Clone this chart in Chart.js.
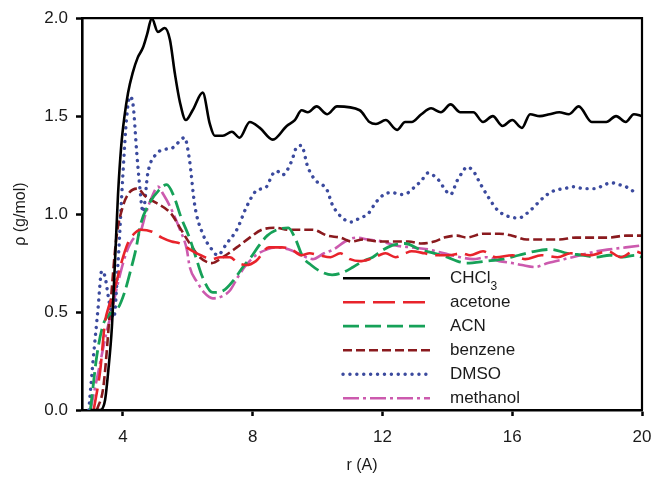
<!DOCTYPE html>
<html>
<head>
<meta charset="utf-8">
<script src="https://cdn.jsdelivr.net/npm/chart.js@4.4.1/dist/chart.umd.min.js"></script>
<style>
	body { margin: 0; background: #fff; }
	#wrap { width: 653px; height: 479px; }
</style>
</head>
<body>
<div id="wrap"><canvas id="rdf_chart" width="653" height="479"></canvas></div>
<script>
// [r (A), rho (g/mol)], one list per solvent
const chcl3 = [
	[3.0, 0], [3.3, 0], [3.45, 0.05], [3.55, 0.2], [3.66, 0.42], [3.76, 0.77], [3.85, 1.1], [3.95, 1.35],
	[4.05, 1.5], [4.16, 1.62], [4.3, 1.72], [4.46, 1.8], [4.62, 1.85], [4.75, 1.92], [4.89, 2.0], [5.08, 1.93],
	[5.29, 1.95], [5.45, 1.89], [5.6, 1.72], [5.76, 1.57], [5.94, 1.48], [6.15, 1.53], [6.46, 1.62], [6.68, 1.46],
	[6.83, 1.4], [7.08, 1.4], [7.36, 1.42], [7.6, 1.39], [7.91, 1.47], [8.22, 1.44], [8.62, 1.38], [9.05, 1.45],
	[9.3, 1.48], [9.51, 1.53], [9.7, 1.52], [9.97, 1.55], [10.3, 1.51], [10.6, 1.55], [11.3, 1.53], [11.6, 1.47],
	[11.8, 1.46], [12.1, 1.48], [12.45, 1.43], [12.7, 1.47], [12.9, 1.47], [13.2, 1.51], [13.5, 1.54], [13.8, 1.52],
	[14.1, 1.56], [14.4, 1.52], [14.8, 1.52], [15.1, 1.47], [15.4, 1.5], [15.7, 1.45], [16.0, 1.48], [16.3, 1.44],
	[16.55, 1.51], [16.85, 1.5], [17.15, 1.51], [17.45, 1.52], [17.75, 1.51], [18.05, 1.55], [18.45, 1.47], [18.9, 1.47],
	[19.2, 1.5], [19.5, 1.47], [19.75, 1.51], [20.0, 1.5]
];
const acetone = [
	[3.1, 0], [3.3, 0.2], [3.45, 0.45], [3.55, 0.52], [3.75, 0.62], [3.95, 0.75], [4.15, 0.85], [4.35, 0.9],
	[4.55, 0.92], [4.9, 0.91], [5.2, 0.88], [5.5, 0.86], [5.76, 0.85], [6.06, 0.82], [6.4, 0.79], [6.74, 0.77],
	[7.0, 0.78], [7.3, 0.78], [7.55, 0.75], [7.8, 0.74], [8.1, 0.76], [8.5, 0.83], [8.9, 0.83], [9.2, 0.82],
	[9.5, 0.79], [9.76, 0.8], [10.05, 0.79], [10.4, 0.78], [10.7, 0.8], [11.0, 0.77], [11.3, 0.76], [11.6, 0.77],
	[11.9, 0.79], [12.1, 0.8], [12.4, 0.78], [12.7, 0.8], [12.9, 0.81], [13.3, 0.8], [13.6, 0.79], [14.05, 0.79],
	[14.45, 0.8], [14.7, 0.79], [15.1, 0.81], [15.5, 0.78], [16.0, 0.79], [16.4, 0.77], [16.9, 0.79], [17.4, 0.78],
	[17.8, 0.8], [18.4, 0.79], [18.95, 0.81], [19.35, 0.78], [19.75, 0.81], [20.0, 0.8]
];
const acn = [
	[3.0, 0], [3.2, 0.28], [3.4, 0.44], [3.6, 0.49], [3.85, 0.52], [4.05, 0.6], [4.25, 0.72], [4.4, 0.82],
	[4.55, 0.95], [4.8, 1.05], [5.1, 1.12], [5.35, 1.15], [5.55, 1.1], [5.8, 0.98], [6.05, 0.88], [6.25, 0.78],
	[6.45, 0.68], [6.77, 0.6], [7.1, 0.61], [7.4, 0.66], [7.7, 0.73], [7.95, 0.78], [8.2, 0.84], [8.45, 0.89],
	[8.75, 0.92], [9.1, 0.93], [9.3, 0.88], [9.55, 0.78], [9.8, 0.74], [10.06, 0.71], [10.45, 0.69], [10.75, 0.7],
	[11.1, 0.73], [11.4, 0.76], [11.7, 0.78], [11.95, 0.81], [12.3, 0.84], [12.7, 0.85], [13.15, 0.82], [13.6, 0.8],
	[14.0, 0.78], [14.3, 0.76], [14.6, 0.75], [15.2, 0.76], [15.7, 0.77], [16.2, 0.79], [16.7, 0.81], [17.2, 0.82],
	[17.7, 0.8], [18.2, 0.79], [18.6, 0.78], [19.0, 0.79], [19.4, 0.78], [19.8, 0.79], [20.0, 0.78]
];
const benzene = [
	[3.2, 0], [3.4, 0.12], [3.6, 0.5], [3.8, 0.88], [4.0, 1.04], [4.2, 1.11], [4.45, 1.13], [4.7, 1.09],
	[5.0, 1.06], [5.3, 1.03], [5.5, 1.0], [5.76, 0.93], [6.06, 0.85], [6.37, 0.78], [6.74, 0.75], [7.08, 0.78],
	[7.51, 0.83], [7.91, 0.88], [8.28, 0.92], [8.7, 0.93], [9.1, 0.92], [9.5, 0.92], [9.85, 0.92], [10.3, 0.89],
	[10.7, 0.88], [11.05, 0.86], [11.4, 0.87], [11.9, 0.86], [12.3, 0.86], [12.8, 0.86], [13.2, 0.85], [13.6, 0.86],
	[13.9, 0.88], [14.3, 0.89], [14.6, 0.88], [15.1, 0.9], [15.6, 0.9], [16.0, 0.89], [16.45, 0.87], [16.95, 0.87],
	[17.45, 0.87], [17.95, 0.88], [18.5, 0.88], [18.95, 0.88], [19.5, 0.89], [20.0, 0.89]
];
const dmso = [
	[2.95, 0], [3.08, 0.25], [3.23, 0.51], [3.35, 0.71], [3.45, 0.68], [3.58, 0.55], [3.72, 0.47], [3.85, 0.75],
	[4.0, 1.2], [4.12, 1.5], [4.22, 1.6], [4.32, 1.55], [4.42, 1.33], [4.52, 1.14], [4.62, 1.01], [4.77, 1.21],
	[5.05, 1.31], [5.3, 1.33], [5.55, 1.34], [5.9, 1.39], [6.05, 1.28], [6.22, 1.04], [6.46, 0.9], [6.74, 0.82],
	[6.92, 0.79], [7.2, 0.85], [7.51, 0.92], [7.82, 1.04], [8.12, 1.12], [8.43, 1.14], [8.6, 1.2], [8.74, 1.22],
	[8.92, 1.2], [9.2, 1.27], [9.35, 1.34], [9.5, 1.35], [9.7, 1.24], [9.95, 1.17], [10.15, 1.15], [10.3, 1.12],
	[10.45, 1.05], [10.65, 1.0], [10.85, 0.97], [11.05, 0.96], [11.3, 0.98], [11.55, 1.0], [11.8, 1.06], [12.05, 1.1],
	[12.3, 1.11], [12.55, 1.1], [12.8, 1.11], [13.0, 1.14], [13.2, 1.17], [13.4, 1.21], [13.55, 1.2], [13.75, 1.17],
	[13.95, 1.12], [14.1, 1.1], [14.3, 1.17], [14.45, 1.21], [14.6, 1.24], [14.8, 1.22], [15.0, 1.16], [15.25, 1.09],
	[15.55, 1.02], [15.85, 0.99], [16.2, 0.98], [16.5, 1.01], [16.75, 1.05], [17.0, 1.09], [17.3, 1.12], [17.6, 1.13],
	[17.9, 1.14], [18.2, 1.13], [18.55, 1.13], [18.85, 1.15], [19.05, 1.16], [19.3, 1.15], [19.5, 1.14], [19.7, 1.12],
	[19.85, 1.1]
];
const methanol = [
	[3.0, 0], [3.25, 0.2], [3.5, 0.4], [3.65, 0.5], [3.85, 0.65], [4.1, 0.8], [4.35, 0.88], [4.52, 0.9],
	[4.7, 1.0], [4.9, 1.09], [5.08, 1.14], [5.25, 1.1], [5.45, 1.04], [5.76, 0.92], [5.97, 0.82], [6.06, 0.73],
	[6.3, 0.65], [6.5, 0.6], [6.77, 0.57], [7.05, 0.58], [7.3, 0.61], [7.55, 0.68], [7.8, 0.74], [8.1, 0.79],
	[8.45, 0.82], [8.75, 0.83], [9.1, 0.82], [9.4, 0.8], [9.65, 0.78], [9.85, 0.77], [10.2, 0.8], [10.5, 0.82],
	[10.85, 0.86], [11.2, 0.88], [11.55, 0.87], [12.0, 0.86], [12.4, 0.84], [12.9, 0.83], [13.4, 0.82], [13.9, 0.8],
	[14.4, 0.78], [14.8, 0.77], [15.2, 0.78], [15.6, 0.76], [16.0, 0.75], [16.3, 0.74], [16.7, 0.73], [17.1, 0.75],
	[17.6, 0.77], [18.1, 0.79], [18.6, 0.81], [19.0, 0.82], [19.5, 0.83], [20.0, 0.84]
];

const series_names = ['CHCl3', 'acetone', 'ACN', 'benzene', 'DMSO', 'methanol'];
const x_ticks = [4, 8, 12, 16, 20];
const y_ticks = [0, 0.5, 1.0, 1.5, 2.0];

const font_family = '"Liberation Sans", Arial, Helvetica, sans-serif';
const text_color = '#1a1a1a';

function to_points(list) {
	return list.map(p => ({ x: p[0], y: p[1] }));
}

const styles = [
	{ color: '#000000', dash: [], width: 2.6 },
	{ color: '#e8232b', dash: [22, 8], width: 2.6 },
	{ color: '#16a158', dash: [16, 6], width: 2.8 },
	{ color: '#8a1a1e', dash: [9, 4], width: 2.6 },
	{ color: '#3b4a9e', dash: [0.1, 6.8], width: 3.4, cap: 'round' },
	{ color: '#cc5aae', dash: [16, 4, 3, 4], width: 2.6 }
];
const all_series = [chcl3, acetone, acn, benzene, dmso, methanol];

// draw order: coloured curves first, black on top
const datasets = all_series.map((s, i) => ({
	label: series_names[i],
	data: to_points(s),
	borderColor: styles[i].color,
	backgroundColor: styles[i].color,
	borderDash: styles[i].dash,
	borderWidth: styles[i].width,
	borderCapStyle: styles[i].cap || 'butt',
	pointRadius: 0,
	cubicInterpolationMode: 'monotone',
	fill: false,
	order: i === 0 ? 0 : 1
}));

const frame_box = {
	id: 'frame_box',
	afterDraw(chart) {
		const { ctx, chartArea: a } = chart;
		ctx.save();
		ctx.strokeStyle = '#000';
		ctx.lineWidth = 2.2;
		ctx.beginPath();
		ctx.moveTo(a.left, a.top);
		ctx.lineTo(a.right, a.top);
		ctx.lineTo(a.right, a.bottom);
		ctx.stroke();
		ctx.restore();
	}
};

const inside_legend = {
	id: 'inside_legend',
	afterDraw(chart) {
		const { ctx, chartArea: a } = chart;
		const x0 = a.left + 261, x1 = a.left + 348, tx = a.left + 368;
		ctx.save();
		chart.data.datasets.forEach((ds, i) => {
			const y = a.top + 260 + i * 24;
			ctx.beginPath();
			ctx.strokeStyle = ds.borderColor;
			ctx.lineWidth = ds.borderWidth;
			ctx.lineCap = ds.borderCapStyle;
			ctx.setLineDash(ds.borderDash);
			ctx.moveTo(x0, y);
			ctx.lineTo(x1, y);
			ctx.stroke();
			ctx.setLineDash([]);
			ctx.fillStyle = text_color;
			ctx.textBaseline = 'middle';
			ctx.textAlign = 'left';
			ctx.font = '17px ' + font_family;
			if (ds.label === 'CHCl3') {
				ctx.fillText('CHCl', tx, y);
				const w = ctx.measureText('CHCl').width;
				ctx.font = '12px ' + font_family;
				ctx.fillText('3', tx + w, y + 8);
			} else {
				ctx.fillText(ds.label, tx, y);
			}
		});
		ctx.restore();
	}
};

new Chart(document.getElementById('rdf_chart'), {
	type: 'line',
	data: { datasets: datasets },
	options: {
		responsive: false,
		animation: false,
		layout: { padding: { left: 7, right: 0, top: 17, bottom: 0 } },
		plugins: {
			legend: { display: false },
			tooltip: { enabled: false }
		},
		scales: {
			x: {
				type: 'linear',
				min: 2.74,
				max: 20,
				afterBuildTicks: scale => { scale.ticks = x_ticks.map(v => ({ value: v })); },
				afterFit: scale => {
					scale.height = 69;
					scale.paddingLeft = 0;
					scale.paddingRight = 11;
				},
				grid: { drawOnChartArea: false, drawTicks: true, tickLength: 6, tickWidth: 2.5, tickColor: '#000' },
				border: { color: '#000', width: 2.6 },
				ticks: { color: text_color, font: { size: 17, family: font_family }, padding: 11, maxRotation: 0 },
				title: { display: true, text: 'r (A)', color: text_color, font: { size: 16, family: font_family }, padding: { top: 6 } }
			},
			y: {
				type: 'linear',
				min: 0,
				max: 2,
				afterBuildTicks: scale => { scale.ticks = y_ticks.map(v => ({ value: v })); },
				afterFit: scale => { scale.width = 75; },
				grid: { drawOnChartArea: false, drawTicks: true, tickLength: 6, tickWidth: 2.5, tickColor: '#000' },
				border: { color: '#000', width: 2.6 },
				ticks: { color: text_color, font: { size: 17, family: font_family }, padding: 8, callback: v => v.toFixed(1) },
				title: { display: true, text: 'ρ (g/mol)', color: text_color, font: { size: 16, family: font_family }, padding: { bottom: 0 } }
			}
		}
	},
	plugins: [frame_box, inside_legend]
});
</script>
</body>
</html>
